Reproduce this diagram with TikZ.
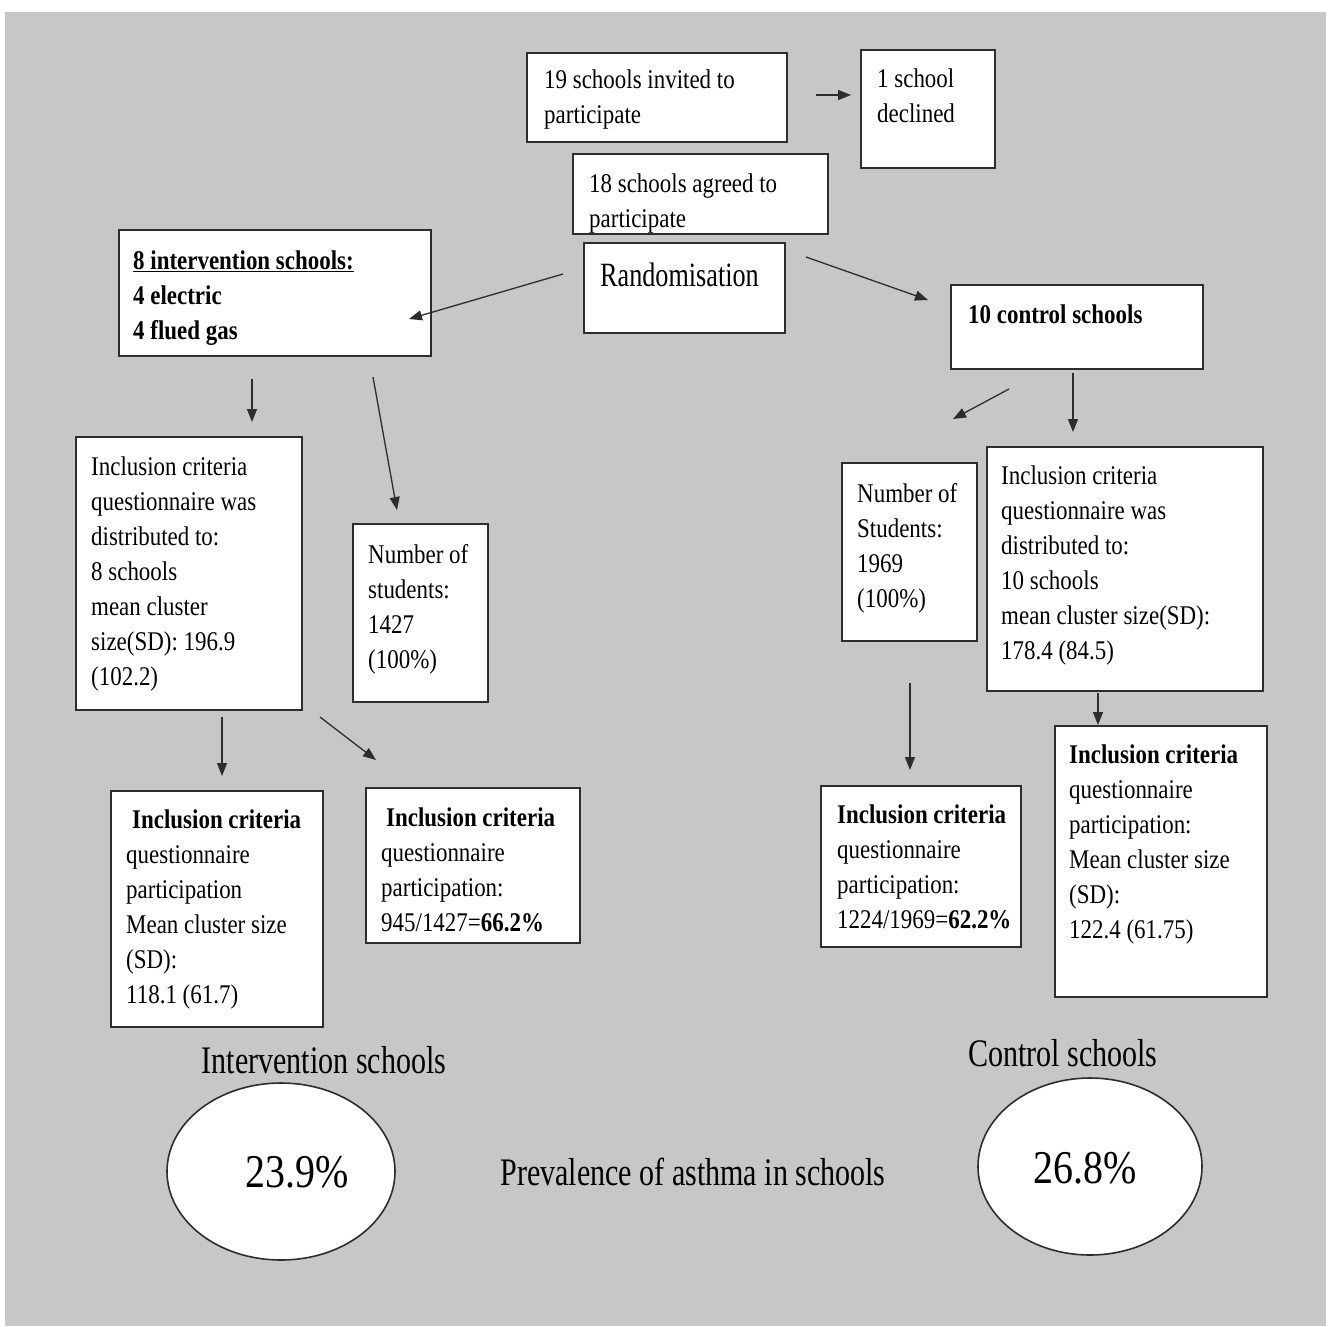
\documentclass[tikz,border=0pt]{standalone}
\usepackage{fontspec}
\setmainfont{Liberation Serif}
\newfontfamily\bodyf[FakeStretch=0.85]{Liberation Serif}
\newfontfamily\bigf[FakeStretch=0.77]{Liberation Serif}
\usetikzlibrary{shapes.geometric,arrows.meta}
\definecolor{bggray}{RGB}{199,199,199}
\definecolor{edge}{RGB}{45,45,45}
\tikzset{
  box/.style={draw=edge, line width=1.6pt, fill=white, inner sep=0pt},
  txt/.style={anchor=north west, inner sep=0pt, align=left, text=black,
    font=\bodyf\fontsize{27}{35}\selectfont},
  bigtxt/.style={anchor=base, inner sep=0pt, text=black,
    font=\bigf\fontsize{39}{45}\selectfont},
  pct/.style={anchor=base, inner sep=0pt, text=black,
    font=\bodyf\fontsize{47}{52}\selectfont},
  oval/.style={ellipse, draw=edge, line width=1.6pt, fill=white, inner sep=0pt},
  arr/.style={draw=edge, line width=1.3pt, -{Triangle[length=13pt,width=10pt]}}
}
\begin{document}
\begin{tikzpicture}[x=1pt,y=-1pt]
\useasboundingbox (0,0) rectangle (1335,1326);
\fill[bggray] (5,12) rectangle (1326,1326);

% boxes
\node[box, minimum width=260, minimum height=89] (invited) at (657,97.5) {};
\node[box, minimum width=134, minimum height=118] (declined) at (928,109) {};
\node[box, minimum width=255, minimum height=80] (agreed) at (700.5,194) {};
\node[box, minimum width=201, minimum height=90] (random) at (684.5,288) {};
\node[box, minimum width=312, minimum height=126] (interv) at (275,293) {};
\node[box, minimum width=252, minimum height=84] (control) at (1077,327) {};
\node[box, minimum width=226, minimum height=273] (incL) at (189,573.5) {};
\node[box, minimum width=135, minimum height=178] (numL) at (420.5,613) {};
\node[box, minimum width=135, minimum height=178] (numR) at (909.5,552) {};
\node[box, minimum width=276, minimum height=244] (incR) at (1125,569) {};
\node[box, minimum width=212, minimum height=236] (partL) at (217,909) {};
\node[box, minimum width=214, minimum height=155] (partLm) at (473,865.5) {};
\node[box, minimum width=200, minimum height=161] (partRm) at (921,866.5) {};
\node[box, minimum width=212, minimum height=271] (partR) at (1161,861.5) {};

% texts (anchor = top of strut, baseline - 24.5)
\node[txt] (tinvited) at (544,63.5) {\strut 19 schools invited to\\participate};
\node[txt] (tdeclined) at (877,62.5) {\strut 1 school\\declined};
\node[txt] (tagreed) at (589,167.5) {\strut 18 schools agreed to\\participate};
\node[anchor=base west, inner sep=0pt, font=\bigf\fontsize{34}{40}\selectfont] (trandom) at (600,286) {Randomisation};
\node[txt, font=\bodyf\bfseries\fontsize{27}{35}\selectfont] (tinterv) at (133,244.5) {\strut\underline{8 intervention schools:}\\4 electric\\4 flued gas};
\node[txt, font=\bodyf\bfseries\fontsize{27}{35}\selectfont] (tcontrol) at (968,298.5) {\strut 10 control schools};
\node[txt] (tincL) at (91,450.5) {\strut Inclusion criteria\\questionnaire was\\distributed to:\\8 schools\\mean cluster\\size(SD): 196.9\\(102.2)};
\node[txt] (tnumL) at (368,538.5) {\strut Number of\\students:\\1427\\(100\%)};
\node[txt] (tnumR) at (857,477.5) {\strut Number of\\Students:\\1969\\(100\%)};
\node[txt] (tincR) at (1001,459.5) {\strut Inclusion criteria\\questionnaire was\\distributed to:\\10 schools\\mean cluster size(SD):\\178.4 (84.5)};
\node[txt] (tpartL) at (126,803.5) {\strut\hspace{6pt}\textbf{Inclusion criteria}\\questionnaire\\participation\\Mean cluster size\\(SD):\\118.1 (61.7)};
\node[txt] (tpartLm) at (381,801.5) {\strut\hspace{5pt}\textbf{Inclusion criteria}\\questionnaire\\participation:\\945/1427=\textbf{66.2\%}};
\node[txt] (tpartRm) at (837,798.5) {\strut\textbf{Inclusion criteria}\\questionnaire\\participation:\\1224/1969=\textbf{62.2\%}};
\node[txt] (tpartR) at (1069,738.5) {\strut\textbf{Inclusion criteria}\\questionnaire\\participation:\\Mean cluster size\\(SD):\\122.4 (61.75)};

% bottom
\node[bigtxt] (tintsch) at (324,1073) {Intervention schools};
\node[bigtxt] (tconsch) at (1063,1066) {Control schools};
\node[oval, minimum width=228, minimum height=177] (ovL) at (281,1171.5) {};
\node[oval, minimum width=224, minimum height=177] (ovR) at (1090,1166.5) {};
\node[pct] (pL) at (297,1187) {23.9\%};
\node[pct] (pR) at (1085,1183) {26.8\%};
\node[bigtxt] (prev) at (693,1185) {Prevalence of asthma in schools};

% arrow end points
\coordinate (a1s) at (816,95);   \coordinate (a1e) at (851,95);
\coordinate (a2s) at (563,274);  \coordinate (a2e) at (409,319);
\coordinate (a3s) at (806,257);  \coordinate (a3e) at (928,300);
\coordinate (a4s) at (252,379);  \coordinate (a4e) at (252,422);
\coordinate (a5s) at (373,377);  \coordinate (a5e) at (397,510);
\coordinate (a6s) at (1009,389); \coordinate (a6e) at (953,419);
\coordinate (a7s) at (1073,373); \coordinate (a7e) at (1073,432);
\coordinate (a8s) at (222,717);  \coordinate (a8e) at (222,776);
\coordinate (a9s) at (320,717);  \coordinate (a9e) at (376,760);
\coordinate (a10s) at (910,683); \coordinate (a10e) at (910,770);
\coordinate (a11s) at (1098,693);\coordinate (a11e) at (1098,725);

\foreach \i in {1,...,11} {\draw[arr] (a\i s) -- (a\i e);}
\end{tikzpicture}
\end{document}
